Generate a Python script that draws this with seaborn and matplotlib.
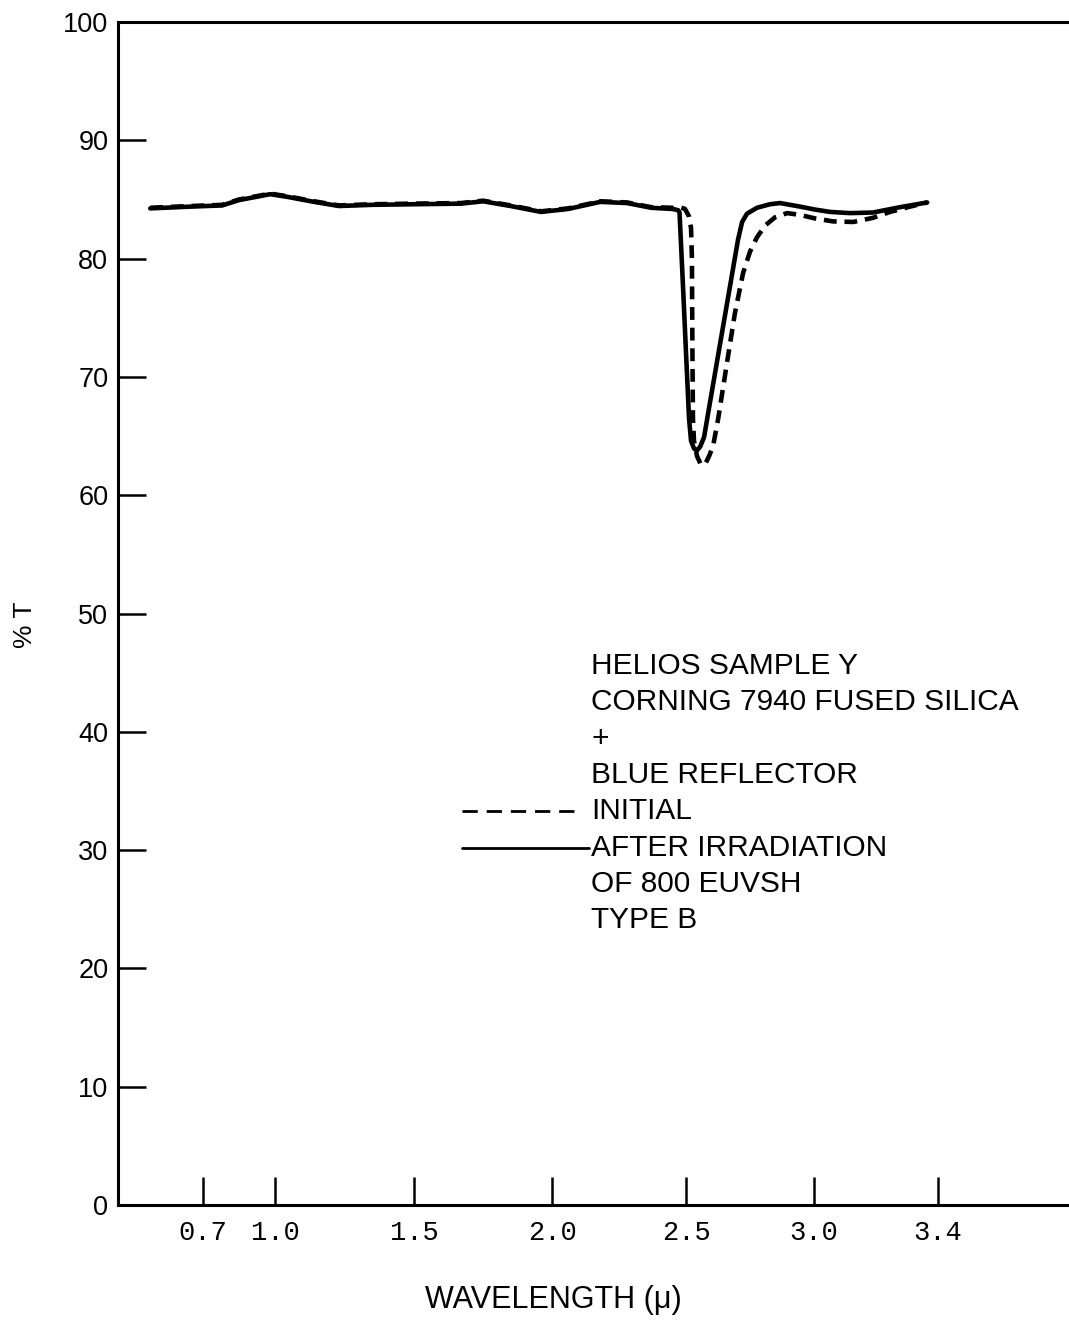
import numpy as np
import pandas as pd
import matplotlib
matplotlib.use("Agg")
import matplotlib.pyplot as plt
import seaborn as sns

# ---- spectra (wavelength in microns, % transmission) ----
wl_after = [0.48, 0.65, 0.78, 0.85, 0.98, 1.05, 1.14, 1.23, 1.35, 1.50, 1.67, 1.75,
            1.85, 1.96, 2.06, 2.18, 2.28, 2.37, 2.45, 2.470, 2.4757, 2.489, 2.500,
            2.5117, 2.5195, 2.531, 2.543, 2.555, 2.5703, 2.594, 2.633, 2.672, 2.703,
            2.719, 2.738, 2.777, 2.828, 2.867, 2.945, 3.003, 3.052, 3.116, 3.190,
            3.277, 3.365]
t_after = [84.25, 84.4, 84.5, 84.95, 85.45, 85.2, 84.8, 84.45, 84.55, 84.6, 84.65, 84.85,
           84.45, 83.95, 84.2, 84.8, 84.7, 84.3, 84.2, 84.1, 83.9, 77.5, 72.0,
           66.5, 64.6, 63.95, 63.8, 64.1, 64.9, 67.9, 72.8, 77.7, 81.6,
           83.1, 83.8, 84.3, 84.6, 84.7, 84.4, 84.15, 83.95, 83.85, 83.9,
           84.35, 84.75]

wl_initial = [0.48, 0.65, 0.78, 0.85, 0.98, 1.05, 1.14, 1.23, 1.35, 1.50, 1.67, 1.75,
              1.85, 1.96, 2.06, 2.18, 2.28, 2.37, 2.451, 2.477, 2.496, 2.511, 2.5195,
              2.523, 2.525, 2.527, 2.531, 2.543, 2.558, 2.574, 2.590, 2.606, 2.625,
              2.660, 2.691, 2.723, 2.750, 2.777, 2.809, 2.848, 2.895, 2.945, 3.003,
              3.061, 3.126, 3.190, 3.245, 3.310, 3.365]
t_initial = [84.3, 84.45, 84.55, 85.0, 85.5, 85.25, 84.85, 84.5, 84.6, 84.65, 84.7, 84.9,
             84.5, 84.0, 84.25, 84.85, 84.75, 84.35, 84.3, 84.35, 84.2, 83.6, 82.6,
             80.0, 72.0, 66.5, 64.6, 63.3, 62.6, 62.6, 63.3, 64.2, 66.4,
             71.2, 75.4, 78.8, 80.6, 81.8, 82.8, 83.5, 83.85, 83.7, 83.4,
             83.15, 83.1, 83.45, 83.95, 84.4, 84.75]

x_ticks = [0.7, 1.0, 1.5, 2.0, 2.5, 3.0, 3.4]
x_tick_labels = ["0.7", "1.0", "1.5", "2.0", "2.5", "3.0", "3.4"]
y_ticks = list(range(0, 101, 10))

note_lines = ["HELIOS SAMPLE Y", "CORNING 7940 FUSED SILICA", "+", "BLUE REFLECTOR",
              "INITIAL", "AFTER IRRADIATION", "OF 800 EUVSH", "TYPE B"]

# ---- non-uniform wavelength axis of the recording chart ----
# fraction of the axis width at which each calibrated wavelength is printed
axis_wl = np.array([0.7, 1.0, 1.5, 2.0, 2.5, 3.0, 3.4])
axis_frac = np.array([0.0894, 0.1651, 0.3113, 0.4564, 0.5973, 0.7319, 0.8623])


def _interp_ext(x, xp, fp):
    arr = np.asarray(x, dtype=float)
    flat = np.atleast_1d(arr).astype(float)
    out = np.interp(flat, xp, fp)
    lo = flat < xp[0]
    hi = flat > xp[-1]
    out[lo] = fp[0] + (flat[lo] - xp[0]) * (fp[1] - fp[0]) / (xp[1] - xp[0])
    out[hi] = fp[-1] + (flat[hi] - xp[-1]) * (fp[-1] - fp[-2]) / (xp[-1] - xp[-2])
    return out.reshape(arr.shape)


def wl_to_chart(x):
    return _interp_ext(x, axis_wl, axis_frac)


def chart_to_wl(x):
    return _interp_ext(x, axis_frac, axis_wl)


sns.set_theme(style="ticks")
plt.rcParams["font.family"] = ["Liberation Sans", "DejaVu Sans"]

fig = plt.figure(figsize=(10.69, 13.21), dpi=100)
ax = fig.add_axes([0.1104, 0.0878, 0.8896, 0.8955])
ax.set_xscale("function", functions=(wl_to_chart, chart_to_wl))

df_init = pd.DataFrame({"wl": wl_initial, "T": t_initial})
df_after = pd.DataFrame({"wl": wl_after, "T": t_after})

sns.lineplot(data=df_init, x="wl", y="T", ax=ax, color="black", lw=3.3,
             linestyle=(0, (2.8, 1.7)), sort=False, estimator=None)
sns.lineplot(data=df_after, x="wl", y="T", ax=ax, color="black", lw=3.3,
             sort=False, estimator=None)
for ln in ax.get_lines():
    ln.set_solid_joinstyle("round")
    ln.set_solid_capstyle("round")

ax.set_xlim(float(chart_to_wl(0.0)), float(chart_to_wl(1.0)))
ax.set_ylim(0, 100)

# frame: left, bottom and top rules only
for side in ("left", "bottom", "top"):
    ax.spines[side].set_linewidth(2.2)
    ax.spines[side].set_color("black")
ax.spines["right"].set_visible(False)

ax.set_xticks(x_ticks)
ax.set_xticklabels(x_tick_labels, family=["Liberation Mono", "DejaVu Sans Mono"],
                   fontsize=19.5)
ax.xaxis.set_minor_locator(matplotlib.ticker.NullLocator())
ax.set_yticks(y_ticks)
ax.set_yticklabels([str(v) for v in y_ticks], fontsize=19.5)
ax.tick_params(axis="x", direction="in", length=20, width=1.8, pad=11, colors="black")
ax.tick_params(axis="y", direction="in", length=20, width=1.8, pad=7, colors="black")

ax.set_xlabel("WAVELENGTH (\u03bc)", fontsize=22, color="black")
ax.xaxis.set_label_coords(0.4574, -0.0803)
ax.xaxis.label.set_va("center")
ax.set_ylabel("% T", fontsize=19, color="black")
ax.yaxis.set_label_coords(-0.0978, 0.4903)
ax.yaxis.label.set_va("center")

# sample description and line key
y0 = 0.4556
step = 0.0307
for i, line in enumerate(note_lines):
    ax.text(0.4974, y0 - i * step, line, transform=ax.transAxes, fontsize=21.5,
            va="center", ha="left", color="black")

y_init = y0 - 4 * step
y_after = y0 - 5 * step
ax.plot([0.3617, 0.4848], [y_init, y_init], transform=ax.transAxes, color="black",
        lw=2.0, linestyle=(0, (5.5, 3.2)), clip_on=False)
ax.plot([0.3617, 0.4953], [y_after, y_after], transform=ax.transAxes, color="black",
        lw=2.0, clip_on=False)

fig.savefig("out.png", dpi=100, facecolor="white")
